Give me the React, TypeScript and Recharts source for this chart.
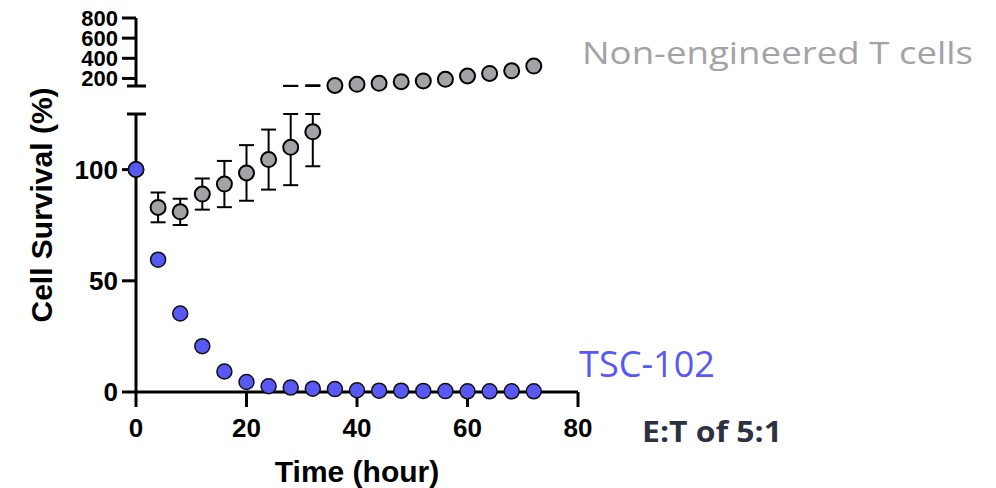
import { ErrorBar, Label, ReferenceLine, Scatter, ScatterChart, XAxis, YAxis } from "recharts";

// sampling times (hours)
const hours = [0, 4, 8, 12, 16, 20, 24, 28, 32, 36, 40, 44, 48, 52, 56, 60, 64, 68, 72];
// TSC-102 survival (%)
const tsc102 = [100, 59.5, 35.3, 20.6, 9.2, 4.5, 2.6, 2.0, 1.5, 1.3, 0.8, 0.6, 0.6, 0.5, 0.4, 0.3, 0.3, 0.3, 0.3];
// non-engineered T cells survival (%) and SD
const nonEngineered = [100, 83, 81, 89, 93.5, 98.5, 104.5, 110, 117, 130, 142, 152, 168, 175, 191, 224, 250, 276, 323];
const nonEngineeredSd = [0, 6.7, 5.9, 7, 10.4, 12.5, 13.5, 17, 15.5, 0, 0, 0, 0, 0, 0, 0, 0, 0, 0];

const xTicks = [0, 20, 40, 60, 80];
const BREAK = 125;
const lowerTicks = [0, 50, 100];
const upperTicks = [200, 400, 600, 800];

const rows = hours.map((hour, i) => ({
	hour,
	tsc: tsc102[i],
	ne: nonEngineered[i],
	sd: nonEngineeredSd[i],
}));
const lowerGray = rows.filter((r) => r.ne <= BREAK);
const upperGray = rows.filter((r) => r.ne > BREAK);
// error bars split at the axis break
const lowerErr = lowerGray
	.filter((r) => r.sd > 0)
	.map((r) => ({ ...r, err: [r.sd, Math.min(r.sd, BREAK - r.ne)] }));
const upperErr = lowerGray
	.filter((r) => r.ne + r.sd > BREAK)
	.map((r) => ({ hour: r.hour, ne: BREAK, err: [0, r.ne + r.sd - BREAK] }));

const FONT = "'Liberation Sans', Arial, sans-serif";
const BLUE = "#5858f5";
const GRAY = "#a3a3a7";
const W = 996;
const H = 488;
const axisLine = { stroke: "#000", strokeWidth: 3 };
const breakSeg = [
	{ x: -1.63, y: BREAK },
	{ x: 1.81, y: BREAK },
];

const grayDot = (p: any) => (
	<circle cx={p.cx} cy={p.cy} r={7.5} fill={GRAY} stroke="#000" strokeWidth={2} />
);
const blueDot = (p: any) => (
	<circle cx={p.cx} cy={p.cy} r={7.5} fill={BLUE} stroke="#111" strokeWidth={1.5} />
);
const noDot = () => <g />;

const xTitle = (p: any) => {
	const vb = p.viewBox;
	return (
		<text
			x={vb.x + vb.width / 2}
			y={vb.y + 90}
			textAnchor="middle"
			fontFamily={FONT}
			fontWeight="bold"
			fontSize={30}
			fill="#000"
		>
			Time (hour)
		</text>
	);
};

const yTitle = () => (
	<text
		x={52}
		y={205}
		transform="rotate(-90, 52, 205)"
		textAnchor="middle"
		fontFamily={FONT}
		fontWeight="bold"
		fontSize={30}
		fill="#000"
	>
		Cell Survival (%)
	</text>
);

const layer = { position: "absolute" as const, left: 0, top: 0 };

export default function App() {
	return (
		<div style={{ position: "absolute", left: 0, top: 0, width: W, height: H, background: "#fff" }}>
			<div style={layer}>
				<ScatterChart width={W} height={H} margin={{ top: 114, right: 418, bottom: 6, left: 0 }}>
					<XAxis
						type="number"
						dataKey="hour"
						domain={[0, 80]}
						ticks={xTicks}
						interval={0}
						height={90}
						axisLine={axisLine}
						tickLine={axisLine}
						tickSize={15}
						tickMargin={12}
						tick={{ fill: "#000", fontSize: 26, fontWeight: "bold", fontFamily: FONT }}
						label={<Label content={xTitle} />}
					/>
					<YAxis
						type="number"
						domain={[0, BREAK]}
						ticks={lowerTicks}
						interval={0}
						width={136}
						axisLine={axisLine}
						tickLine={axisLine}
						tickSize={14}
						tickMargin={4}
						tick={{ fill: "#000", fontSize: 26, fontWeight: "bold", fontFamily: FONT }}
						label={<Label content={yTitle} />}
					/>
					<ReferenceLine segment={breakSeg} stroke="#000" strokeWidth={3} ifOverflow="visible" />
					<Scatter data={lowerErr} dataKey="ne" shape={noDot} isAnimationActive={false}>
						<ErrorBar dataKey="err" direction="y" width={7.5} stroke="#000" strokeWidth={2} />
					</Scatter>
					<Scatter data={lowerGray} dataKey="ne" shape={grayDot} isAnimationActive={false} />
					<Scatter data={rows} dataKey="tsc" shape={blueDot} isAnimationActive={false} />
				</ScatterChart>
			</div>
			<div style={layer}>
				<ScatterChart width={W} height={H} margin={{ top: 18, right: 418, bottom: 402, left: 0 }}>
					<XAxis type="number" dataKey="hour" domain={[0, 80]} hide />
					<YAxis
						type="number"
						domain={[BREAK, 800]}
						ticks={upperTicks}
						interval={0}
						width={136}
						axisLine={axisLine}
						tickLine={axisLine}
						tickSize={14}
						tickMargin={4}
						tick={{ fill: "#000", fontSize: 22, fontWeight: "bold", fontFamily: FONT }}
					/>
					<ReferenceLine segment={breakSeg} stroke="#000" strokeWidth={3} ifOverflow="visible" />
					<Scatter data={upperErr} dataKey="ne" shape={noDot} isAnimationActive={false}>
						<ErrorBar dataKey="err" direction="y" width={7.5} stroke="#000" strokeWidth={2} />
					</Scatter>
					<Scatter data={upperGray} dataKey="ne" shape={grayDot} isAnimationActive={false} />
				</ScatterChart>
			</div>
			<svg width={W} height={H} style={{ ...layer, pointerEvents: "none" }}>
				<text
					x={582}
					y={64}
					fontFamily="'Open Sans', sans-serif"
					fontSize={31}
					fill={GRAY}
					textLength={391}
					lengthAdjust="spacingAndGlyphs"
				>
					Non-engineered T cells
				</text>
				<text
					x={579}
					y={377}
					fontFamily="'Open Sans', sans-serif"
					fontSize={36}
					fill={BLUE}
					textLength={136}
					lengthAdjust="spacingAndGlyphs"
				>
					TSC-102
				</text>
				<text
					x={642}
					y={442}
					fontFamily="'Open Sans', sans-serif"
					fontWeight="bold"
					fontSize={29}
					fill="#2e3140"
					textLength={140}
					lengthAdjust="spacingAndGlyphs"
				>
					E:T of 5:1
				</text>
			</svg>
		</div>
	);
}
